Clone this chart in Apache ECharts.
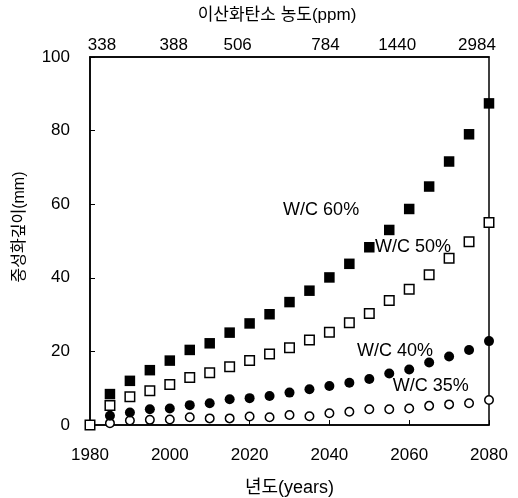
<!DOCTYPE html>
<html>
<head>
<meta charset="utf-8">
<script src="https://cdn.jsdelivr.net/npm/echarts@6/dist/echarts.min.js"></script>
<style>html,body{margin:0;padding:0;background:#fff}#c{width:518px;height:498px}</style>
</head>
<body>
<div id="c"></div>
<script>
const years = [1980,1985,1990,1995,2000,2005,2010,2015,2020,2025,2030,2035,2040,2045,2050,2055,2060,2065,2070,2075,2080];
const wc35 = [null,0.5,1.2,1.4,1.5,2.1,1.8,1.8,2.3,2.1,2.7,2.4,3.2,3.6,4.3,4.3,4.5,5.2,5.6,5.9,6.8];
const wc40 = [null,2.5,3.4,4.3,4.5,5.4,5.9,7.0,7.3,7.9,8.8,9.7,10.6,11.5,12.5,14.0,15.1,17.0,18.6,20.4,22.8];
const wc50 = [0,5.3,7.7,9.3,11.0,12.9,14.2,15.8,17.5,19.3,21.0,23.1,25.2,27.8,30.3,33.8,36.9,40.8,45.3,49.8,55.0];
const wc60 = [null,8.4,12.0,14.9,17.5,20.4,22.2,25.1,27.6,30.1,33.4,36.5,40.1,43.8,48.3,53.0,58.7,64.8,71.6,79.0,87.4];
const co2Labels = ['338','388','506','784','1440','2984'];
const co2Years = [1983,2001,2017,2039,2057,2077];
const seriesNames = ['W/C 35%','W/C 40%','W/C 50%','W/C 60%'];

const FONT = '"Liberation Sans", "Noto Sans CJK KR", sans-serif';
const pts = arr => years.map((y,i)=>[y,arr[i]]).filter(p=>p[1]!==null);

const annot = {
  'W/C 35%': [2055.9, 10.6],
  'W/C 40%': [2046.9, 20.1],
  'W/C 50%': [2051.4, 48.4],
  'W/C 60%': [2028.4, 58.4]
};
function mk(name){
  return {
    symbol:'rect', symbolSize:0, silent:true,
    label:{show:true, position:'right', distance:0, formatter:name, color:'#000', fontSize:18, fontFamily:FONT},
    data:[{coord:annot[name]}]
  };
}
const styles = [
  {symbol:'circle', size:8.5, fill:'#fff'},
  {symbol:'circle', size:10, fill:'#000'},
  {symbol:'rect', size:9.5, fill:'#fff'},
  {symbol:'rect', size:10.5, fill:'#000'}
];
const dataSets = [wc35, wc40, wc50, wc60];

const chart = echarts.init(document.getElementById('c'));
chart.setOption({
  backgroundColor:'#fff',
  animation:false,
  textStyle:{fontFamily:FONT},
  grid:{left:90, right:29, top:57, bottom:73, containLabel:false, outerBoundsMode:'none', show:true, borderColor:'#000', borderWidth:1.5},
  xAxis:[{
    type:'value', min:1980, max:2080, interval:20, position:'bottom',
    name:'년도(years)', nameLocation:'middle', nameGap:54,
    nameTextStyle:{fontSize:18, color:'#000', fontFamily:FONT},
    axisLine:{lineStyle:{color:'#000', width:1.5}},
    axisTick:{inside:true, length:5, lineStyle:{color:'#000'}},
    axisLabel:{fontSize:17, color:'#000', margin:22, fontFamily:FONT, formatter:v=>String(v)},
    splitLine:{show:false}
  },{
    type:'value', min:1980, max:2080, position:'top',
    name:'이산화탄소 농도(ppm)', nameLocation:'middle', nameGap:33,
    nameTextStyle:{fontSize:17, color:'#000', fontFamily:FONT, padding:[0,25,0,0]},
    axisLine:{show:true, lineStyle:{color:'#000', width:1.5}},
    axisTick:{show:false},
    axisLabel:{fontSize:17, color:'#000', margin:3, fontFamily:FONT,
      customValues:co2Years,
      formatter:v=>{const i=co2Years.indexOf(v); return i>=0?co2Labels[i]:'';}},
    splitLine:{show:false}
  }],
  yAxis:{
    type:'value', min:0, max:100, interval:20,
    name:'중성화깊이(mm)', nameLocation:'middle', nameGap:62,
    nameTextStyle:{fontSize:16, color:'#000', fontFamily:FONT, padding:[0,0,0,28]},
    axisLine:{lineStyle:{color:'#000', width:1.5}},
    axisTick:{inside:true, length:5, lineStyle:{color:'#000'}},
    axisLabel:{fontSize:17, color:'#000', margin:20, fontFamily:FONT, formatter:v=>String(v)},
    splitLine:{show:false}
  },
  series: dataSets.map((d,i)=>({
    name:seriesNames[i], type:'scatter', xAxisIndex:0,
    symbol:styles[i].symbol, symbolSize:styles[i].size,
    itemStyle:{color:styles[i].fill, borderColor:'#000', borderWidth:styles[i].fill==='#fff'?1.5:0, opacity:1},
    data:pts(d),
    markPoint:mk(seriesNames[i]),
    z:2+i
  }))
});
</script>
</body>
</html>
